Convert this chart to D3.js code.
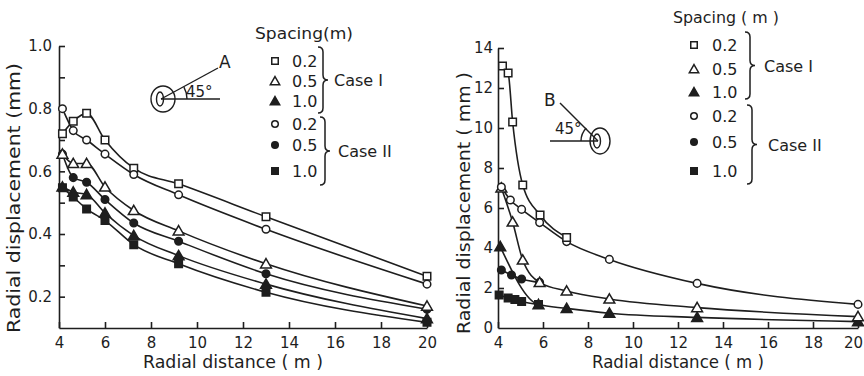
<!DOCTYPE html>
<html>
<head>
<meta charset="utf-8">
<script src="https://cdnjs.cloudflare.com/ajax/libs/d3/7.8.5/d3.min.js"></script>
<style>
  body { margin: 0; background: #fff; }
  text { font-family: "DejaVu Sans", sans-serif; fill: #1e1e1e; }
</style>
</head>
<body>
<div id="chart"></div>
<script>
// ---- data ----
// left panel (point A)
var leftX = [4.15, 4.62, 5.2, 6.0, 7.25, 9.2, 13.0, 20.0]
var leftCase1_02 = [0.72, 0.76, 0.785, 0.70, 0.61, 0.56, 0.455, 0.265]
var leftCase1_05 = [0.655, 0.625, 0.625, 0.55, 0.475, 0.41, 0.305, 0.17]
var leftCase1_10 = [0.55, 0.534, 0.526, 0.467, 0.395, 0.331, 0.24, 0.13]
var leftCase2_02 = [0.80, 0.73, 0.70, 0.655, 0.59, 0.525, 0.415, 0.24]
var leftCase2_05 = [0.655, 0.58, 0.565, 0.51, 0.435, 0.377, 0.273, 0.16]
var leftCase2_10 = [0.548, 0.518, 0.48, 0.443, 0.366, 0.305, 0.214, 0.118]

// right panel (point B)
var rightX1_02 = [4.2, 4.45, 4.65, 5.1, 5.87, 7.05]
var rightCase1_02 = [13.1, 12.75, 10.3, 7.15, 5.65, 4.53]
var rightX1_05 = [4.15, 4.65, 5.1, 5.85, 7.05, 8.95, 12.85, 20.0]
var rightCase1_05 = [7.0, 5.3, 3.4, 2.28, 1.85, 1.45, 1.02, 0.57]
var rightX1_10 = [4.1, 5.8, 7.05, 8.95, 12.85, 20.0]
var rightCase1_10 = [4.07, 1.17, 0.98, 0.74, 0.53, 0.32]
var rightX2_02 = [4.15, 4.55, 5.05, 5.85, 7.05, 8.95, 12.85, 20.0]
var rightCase2_02 = [7.05, 6.4, 5.93, 5.27, 4.32, 3.43, 2.23, 1.18]
var rightX2_05 = [4.15, 4.6, 5.05, 5.85]
var rightCase2_05 = [2.9, 2.65, 2.45, 2.28]
var rightX2_10 = [4.05, 4.45, 4.75, 5.05, 5.8]
var rightCase2_10 = [1.65, 1.5, 1.42, 1.32, 1.17]

var xTicks = [4, 6, 8, 10, 12, 14, 16, 18, 20]
var leftYTicks = [0.2, 0.3, 0.4, 0.5, 0.6, 0.7, 0.8, 0.9, 1.0]
var leftYLabels = {0.2: "0.2", 0.4: "0.4", 0.6: "0.6", 0.8: "0.8", 1.0: "1.0"}
var rightYTicks = [0, 2, 4, 6, 8, 10, 12, 14]

var spacingLabels = ["0.2", "0.5", "1.0", "0.2", "0.5", "1.0"]
var markerKinds = ["sqOpen", "triOpen", "triFill", "cirOpen", "cirFill", "sqFill"]
var caseLabels = ["Case I", "Case II"]

var ink = "#1e1e1e"

var svg = d3.select("#chart").append("svg")
  .attr("width", 864)
  .attr("height", 376)

function marker(g, kind, x, y, s) {
  var type = kind.indexOf("sq") === 0 ? d3.symbolSquare :
             kind.indexOf("tri") === 0 ? d3.symbolTriangle : d3.symbolCircle
  var size = kind.indexOf("sq") === 0 ? s * s : kind.indexOf("tri") === 0 ? s * s * 0.9 : s * s * 0.8
  var open = kind.indexOf("Open") > 0
  g.append("path")
    .attr("d", d3.symbol().type(type).size(size)())
    .attr("transform", "translate(" + x + "," + (kind.indexOf("tri") === 0 ? y + 1 : y) + ")")
    .attr("fill", open ? "#fff" : ink)
    .attr("stroke", ink)
    .attr("stroke-width", 1.5)
}

function brace(g, x, y0, y1, w) {
  var ym = (y0 + y1) / 2
  g.append("path")
    .attr("d", "M" + x + "," + y0 + " Q" + (x + w) + "," + y0 + " " + (x + w) + "," + (y0 + w) +
      " L" + (x + w) + "," + (ym - w) + " Q" + (x + w) + "," + ym + " " + (x + 2 * w) + "," + ym +
      " Q" + (x + w) + "," + ym + " " + (x + w) + "," + (ym + w) +
      " L" + (x + w) + "," + (y1 - w) + " Q" + (x + w) + "," + y1 + " " + x + "," + y1)
    .attr("fill", "none").attr("stroke", ink).attr("stroke-width", 1.5)
}

function panel(cfg) {
  var g = svg.append("g")
  var x = d3.scaleLinear().domain([4, 20]).range(cfg.xr)
  var y = d3.scaleLinear().domain(cfg.yd).range(cfg.yr)

  var xAxis = d3.axisBottom(x).tickValues(xTicks).tickSizeInner(-6).tickSizeOuter(0).tickPadding(9)
  var yAxis = d3.axisLeft(y).tickValues(cfg.yTicks).tickSizeInner(-6).tickSizeOuter(0).tickPadding(cfg.yPad)
    .tickFormat(cfg.yFormat)

  var gx = g.append("g").attr("transform", "translate(0," + cfg.yr[0] + ")").call(xAxis)
  var gy = g.append("g").attr("transform", "translate(" + cfg.xr[0] + ",0)").call(yAxis)
  g.selectAll(".domain, .tick line").attr("stroke", ink).attr("stroke-width", 1.6)
  g.selectAll(".tick text").style("font-size", "15px").attr("fill", ink)
    .style("font-family", "DejaVu Sans, sans-serif")
  gx.selectAll(".tick text").attr("dy", "0.75em")
    .filter(function (d) { return d === 20 }).attr("dx", cfg.lastDx)
  gy.selectAll(".tick").filter(function (d) { return d === cfg.yd[0] }).select("line").remove()

  var line = d3.line()
    .x(function (d) { return x(d[0]) })
    .y(function (d) { return y(d[1]) })
    .curve(d3.curveMonotoneX)

  cfg.series.forEach(function (s) {
    var pts = s.x.map(function (v, i) { return [v, s.v[i]] })
    g.append("path").attr("d", line(pts))
      .attr("fill", "none").attr("stroke", ink).attr("stroke-width", 1.6)
  })
  cfg.series.forEach(function (s) {
    s.x.forEach(function (v, i) { marker(g, s.kind, x(v), y(s.v[i]), 7.5) })
  })

  // axis titles
  g.append("text")
    .attr("transform", "translate(" + cfg.ytx + "," + cfg.yty + ") rotate(-90)")
    .attr("text-anchor", "middle")
    .attr("textLength", cfg.ytLen).attr("lengthAdjust", "spacingAndGlyphs")
    .style("font-size", "17px")
    .text(cfg.yTitle)
  g.append("text")
    .attr("x", cfg.xtx).attr("y", 368)
    .attr("text-anchor", "middle")
    .attr("textLength", cfg.xtLen).attr("lengthAdjust", "spacingAndGlyphs")
    .style("font-size", "17px")
    .text("Radial distance ( m )")

  // legend
  var lg = svg.append("g")
  lg.append("text").attr("x", cfg.lg.tx).attr("y", cfg.lg.ty)
    .attr("textLength", cfg.lg.tLen).attr("lengthAdjust", "spacingAndGlyphs")
    .style("font-size", "15px").text(cfg.lg.title)
  cfg.lg.rows.forEach(function (ry, i) {
    marker(lg, markerKinds[i], cfg.lg.mx, ry, 6.5)
    lg.append("text").attr("x", cfg.lg.lx).attr("y", ry + 6)
      .style("font-size", "16px").text(spacingLabels[i])
  })
  brace(lg, cfg.lg.bx, cfg.lg.b1[0], cfg.lg.b1[1], 5)
  brace(lg, cfg.lg.bx + 2, cfg.lg.b2[0], cfg.lg.b2[1], 5)
  lg.append("text").attr("x", cfg.lg.cx).attr("y", (cfg.lg.b1[0] + cfg.lg.b1[1]) / 2 + 6)
    .style("font-size", "16px").text(caseLabels[0])
  lg.append("text").attr("x", cfg.lg.cx + 4).attr("y", (cfg.lg.b2[0] + cfg.lg.b2[1]) / 2 + 6)
    .style("font-size", "16px").text(caseLabels[1])
}

panel({
  xr: [59, 427], yd: [0.1, 1.0], yr: [328, 46],
  yTicks: leftYTicks, yPad: 7, lastDx: 0,
  yFormat: function (d) { return leftYLabels[Math.round(d * 10) / 10] || "" },
  yTitle: "Radial displacement (mm)", ytx: 20, yty: 198, ytLen: 270,
  xtx: 233, xtLen: 180,
  series: [
    { x: leftX, v: leftCase1_02, kind: "sqOpen" },
    { x: leftX, v: leftCase2_02, kind: "cirOpen" },
    { x: leftX, v: leftCase2_05, kind: "cirFill" },
    { x: leftX, v: leftCase1_05, kind: "triOpen" },
    { x: leftX, v: leftCase2_10, kind: "sqFill" },
    { x: leftX, v: leftCase1_10, kind: "triFill" }
  ],
  lg: { title: "Spacing(m)", tx: 255, ty: 39, tLen: 98, mx: 275, lx: 292,
        rows: [61, 81, 101, 124, 145, 171], bx: 318, b1: [47, 113], b2: [117, 185], cx: 334 }
})

panel({
  xr: [498, 858], yd: [0, 14], yr: [328, 48],
  yTicks: rightYTicks, yPad: 5, lastDx: -5,
  yFormat: function (d) { return String(d) },
  yTitle: "Radial displacement ( mm )", ytx: 470, yty: 203, ytLen: 262,
  xtx: 678, xtLen: 172,
  series: [
    { x: rightX2_05, v: rightCase2_05, kind: "cirFill" },
    { x: rightX2_10, v: rightCase2_10, kind: "sqFill" },
    { x: rightX1_10, v: rightCase1_10, kind: "triFill" },
    { x: rightX1_05, v: rightCase1_05, kind: "triOpen" },
    { x: rightX2_02, v: rightCase2_02, kind: "cirOpen" },
    { x: rightX1_02, v: rightCase1_02, kind: "sqOpen" }
  ],
  lg: { title: "Spacing ( m )", tx: 673, ty: 23, tLen: 106, mx: 694, lx: 712,
        rows: [45, 69, 92, 116, 142, 171], bx: 745, b1: [32, 99], b2: [105, 184], cx: 764 }
})

// ---- location sketches ----
function sketch(cx, cy, ex, ey, hx, labelPos, label, angPos) {
  var g = svg.append("g").attr("fill", "none").attr("stroke", ink).attr("stroke-width", 1.4)
  g.append("ellipse").attr("cx", cx).attr("cy", cy).attr("rx", angPos[3]).attr("ry", 13)
  g.append("ellipse").attr("cx", cx - 3).attr("cy", cy).attr("rx", 3.5).attr("ry", 7)
  g.append("line").attr("x1", cx - 2).attr("y1", cy).attr("x2", ex).attr("y2", ey)
  g.append("line").attr("x1", cx - 2).attr("y1", cy).attr("x2", hx).attr("y2", cy)
  var a0 = Math.atan2(ey - cy, ex - cx), r = angPos[2]
  var a1 = hx > cx ? 0 : Math.PI
  g.append("path").attr("d", "M" + (cx + r * Math.cos(a0)) + "," + (cy + r * Math.sin(a0)) +
    " A" + r + "," + r + " 0 0 " + (hx > cx ? 1 : 0) + " " + (cx + r * Math.cos(a1)) + "," + cy)
  svg.append("text").attr("x", angPos[0]).attr("y", angPos[1]).style("font-size", "15px").text("45°")
  svg.append("text").attr("x", labelPos[0]).attr("y", labelPos[1]).style("font-size", "17px").text(label)
}
sketch(163, 99, 218, 68, 220, [219, 68], "A", [186, 97, 24, 12])
sketch(600, 141, 560, 103, 550, [544, 106], "B", [555, 134, 19, 10])
</script>
</body>
</html>
